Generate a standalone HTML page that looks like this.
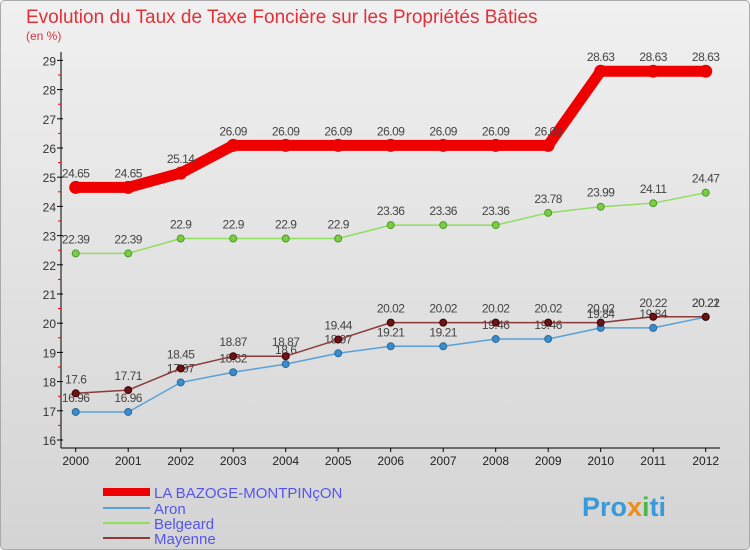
<!DOCTYPE html>
<html><head><meta charset="utf-8"><style>
body{margin:0;width:750px;height:550px;overflow:hidden;font-family:"Liberation Sans",sans-serif}
svg{display:block}
</style></head><body>
<svg id="c" width="750" height="550" xmlns="http://www.w3.org/2000/svg">
<defs><linearGradient id="bg" x1="0" y1="0" x2="0" y2="1"><stop offset="0" stop-color="#f0f0f0"/><stop offset="1" stop-color="#d4d4d4"/></linearGradient></defs>
<rect x="0.5" y="0.5" width="749" height="549" rx="4" fill="url(#bg)" stroke="#aaa"/>
<text x="26" y="23" font-size="19" fill="#e0303a">Evolution du Taux de Taxe Foncière sur les Propriétés Bâties</text>
<text x="26" y="40" font-size="12" fill="#e0303a">(en %)</text>
<g id="axes"></g><g id="series"></g>
<g>
<line x1="103" y1="492" x2="150" y2="492" stroke="#ee0000" stroke-width="8"/>
<text x="154" y="498" font-size="15" fill="#5555ee">LA BAZOGE-MONTPINçON</text>
<line x1="103" y1="508" x2="150" y2="508" stroke="#5aa0d8" stroke-width="2"/>
<text x="154" y="514" font-size="15" fill="#5555ee">Aron</text>
<line x1="103" y1="523" x2="150" y2="523" stroke="#90dd60" stroke-width="2"/>
<text x="154" y="529" font-size="15" fill="#5555ee">Belgeard</text>
<line x1="103" y1="538" x2="150" y2="538" stroke="#8b3a3a" stroke-width="2"/>
<text x="154" y="544" font-size="15" fill="#5555ee">Mayenne</text>
</g>
<text x="582" y="516" font-size="27" font-weight="bold" fill="#3a9ad9">Pro<tspan fill="#f08c1a">x</tspan><tspan fill="#4cb848">i</tspan>ti</text>
</svg>
<script>
const years=[2000,2001,2002,2003,2004,2005,2006,2007,2008,2009,2010,2011,2012];
const yTicks=[16,17,18,19,20,21,22,23,24,25,26,27,28,29];
const bazoge=[24.65,24.65,25.14,26.09,26.09,26.09,26.09,26.09,26.09,26.09,28.63,28.63,28.63];
const aron=[16.96,16.96,17.97,18.32,18.6,18.97,19.21,19.21,19.46,19.46,19.84,19.84,20.21];
const belgeard=[22.39,22.39,22.9,22.9,22.9,22.9,23.36,23.36,23.36,23.78,23.99,24.11,24.47];
const mayenne=[17.6,17.71,18.45,18.87,18.87,19.44,20.02,20.02,20.02,20.02,20.02,20.22,20.22];
const NS="http://www.w3.org/2000/svg";
const X=i=>75.7+i*52.5;
const Y=v=>440-(v-16)*29.2;
function mk(t,a,p){const e=document.createElementNS(NS,t);for(const k in a)e.setAttribute(k,a[k]);p.appendChild(e);return e;}
const ax=document.getElementById('axes');
const ya=mk('line',{x1:61,y1:52,x2:61,y2:448,stroke:'#000'},ax);


const xa=mk('line',{x1:61,y1:448,x2:720,y2:448,stroke:'#000'},ax);


yTicks.forEach(v=>{
 mk('line',{x1:57,y1:Y(v),x2:63,y2:Y(v),stroke:'#000'},ax);
 if(v<29)mk('line',{x1:58,y1:Y(v+0.5),x2:61,y2:Y(v+0.5),stroke:'#e00'},ax);
 const t=mk('text',{x:56,y:Y(v)+5,'font-size':12,'text-anchor':'end',fill:'#333'},ax);t.textContent=v;
 
 
});
years.forEach((y,i)=>{
 mk('line',{x1:X(i),y1:448,x2:X(i),y2:452,stroke:'#000'},ax);
 const t=mk('text',{x:X(i),y:465,'font-size':12,'text-anchor':'middle',fill:'#222'},ax);t.textContent=y;
 
 
});
const sg=document.getElementById('series');
function series(name,vals,col,w,r,fill,lab){
 const g=mk('g',{},sg);
 
 
 const pl=mk('polyline',{points:vals.map((v,i)=>X(i)+','+Y(v)).join(' '),fill:'none',stroke:col,'stroke-width':w,'stroke-linejoin':'round'},g);
 
 
 vals.forEach((v,i)=>{
  const c=mk('circle',{cx:X(i),cy:Y(v),r:r,fill:fill,stroke:lab},g);
  
  
  const t=mk('text',{x:X(i),y:Y(v)-10,'font-size':12,'text-anchor':'middle',fill:'#444','letter-spacing':'-0.5'},g);t.textContent=String(v);
  
  
 });
}
series('aron',aron,'#5aa0d8',1.5,3.5,'#3a8ccc','#2a6a9a');
series('belgeard',belgeard,'#90dd60',1.5,3.5,'#7ccc44','#4a9a2a');
series('mayenne',mayenne,'#8b3a3a',1.5,3.5,'#6a1515','#400');
series('la-bazoge',bazoge,'#ee0000',11,6,'#ee0000','#ee0000');
</script>
</body></html>
